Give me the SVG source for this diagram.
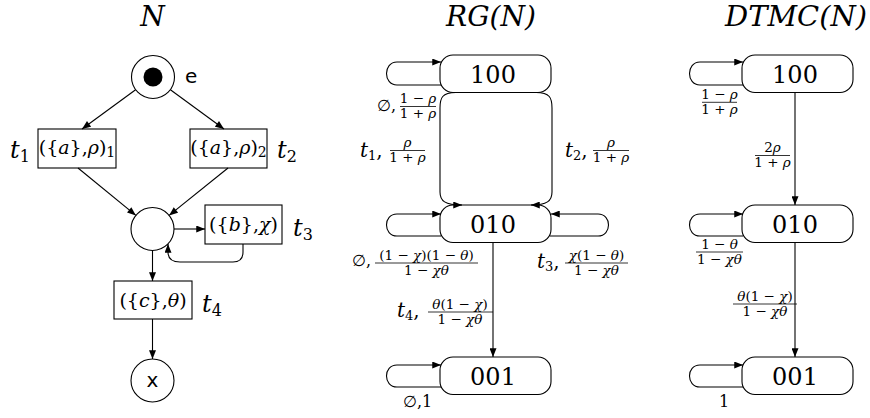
<svg xmlns="http://www.w3.org/2000/svg" width="870" height="418" viewBox="0 0 870 418" font-family="DejaVu Serif">
<defs>
<marker id="ah" viewBox="0 0 10 8" refX="10" refY="4" markerWidth="10" markerHeight="7" orient="auto" markerUnits="userSpaceOnUse"><path d="M0,0 L10,4 L0,8 z" fill="#000"/></marker>
</defs>
<style>
.ln{fill:none;stroke:#000;stroke-width:1.1}
.ar{marker-end:url(#ah)}
.nd{fill:#fff;stroke:#000;stroke-width:1.1}
.bar{stroke:#000;stroke-width:0.8}
.i{font-style:italic}
.ttl{font-size:28px;font-style:italic}
.sans{font-size:20px}
.st{font-size:24px;text-anchor:middle}
.fr{font-size:13.5px;text-anchor:middle}
.lb{font-size:24px}
.lr{font-size:20px}
.bx{font-size:19px;text-anchor:middle}
.em{font-size:16px}
</style>
<rect width="870" height="418" fill="#fff"/>

<g id="titles">
<text class="ttl" x="152.5" y="26" text-anchor="middle">N</text>
<text class="ttl" x="446" y="26" textLength="90" lengthAdjust="spacingAndGlyphs">RG(N)</text>
<text class="ttl" x="725" y="26" textLength="142" lengthAdjust="spacingAndGlyphs">DTMC(N)</text>
</g>

<g id="place-e">
<circle class="nd" cx="153" cy="77" r="21.5"/>
<circle cx="153" cy="77" r="9.5" fill="#000"/>
<text class="sans" font-family="DejaVu Sans" x="185" y="83">e</text>
</g>
<g id="t1">
<rect class="nd" x="38" y="129" width="78" height="39"/>
<text class="bx" x="77" y="154">({<tspan class="i">a</tspan>},<tspan class="i">ρ</tspan>)<tspan font-size="14" dy="3">1</tspan></text>
<text class="lb" x="10" y="158"><tspan class="i">t</tspan><tspan font-size="16" dy="4">1</tspan></text>
</g>
<g id="t2">
<rect class="nd" x="190" y="129" width="77" height="39"/>
<text class="bx" x="228.5" y="154">({<tspan class="i">a</tspan>},<tspan class="i">ρ</tspan>)<tspan font-size="14" dy="3">2</tspan></text>
<text class="lb" x="277" y="158"><tspan class="i">t</tspan><tspan font-size="16" dy="4">2</tspan></text>
</g>
<g id="place-mid">
<circle class="nd" cx="152.5" cy="229" r="21.5"/>
</g>
<g id="t3">
<rect class="nd" x="205" y="205" width="77" height="39"/>
<text class="bx" x="243.5" y="231">({<tspan class="i">b</tspan>},<tspan class="i">χ</tspan>)</text>
<text class="lb" x="293" y="236"><tspan class="i">t</tspan><tspan font-size="16" dy="4">3</tspan></text>
</g>
<g id="t4">
<rect class="nd" x="114" y="281" width="78" height="38"/>
<text class="bx" x="153" y="306.5">({<tspan class="i">c</tspan>},<tspan class="i">θ</tspan>)</text>
<text class="lb" x="202" y="312"><tspan class="i">t</tspan><tspan font-size="16" dy="4">4</tspan></text>
</g>
<g id="place-x">
<circle class="nd" cx="152.5" cy="380.5" r="21.5"/>
<text class="sans" font-family="DejaVu Sans" x="152.5" y="387" text-anchor="middle">x</text>
</g>

<g id="rg-100">
<rect class="nd" x="440" y="55" width="111" height="37.5" rx="13"/>
<text class="st" x="493" y="82.5">100</text>
</g>
<g id="rg-010">
<rect class="nd" x="440" y="205" width="111" height="37.5" rx="13"/>
<text class="st" x="493" y="232.5">010</text>
</g>
<g id="rg-001">
<rect class="nd" x="440" y="357" width="111" height="37.5" rx="13"/>
<text class="st" x="493" y="384.5">001</text>
</g>

<g id="dtmc-100">
<rect class="nd" x="742" y="55" width="111" height="37.5" rx="13"/>
<text class="st" x="795" y="82.5">100</text>
</g>
<g id="dtmc-010">
<rect class="nd" x="742" y="205" width="111" height="37.5" rx="13"/>
<text class="st" x="795" y="232.5">010</text>
</g>
<g id="dtmc-001">
<rect class="nd" x="742" y="357" width="111" height="37.5" rx="13"/>
<text class="st" x="795" y="384.5">001</text>
</g>

<g id="connectors">
<path class="ln ar" d="M135.6 89.7 L82 129"/>
<path class="ln ar" d="M170.4 89.7 L224 129"/>
<path class="ln ar" d="M78 168 L135.9 215.4"/>
<path class="ln ar" d="M228 168 L169.1 215.4"/>
<path class="ln ar" d="M174 229 L205 229"/>
<path class="ln ar" d="M243 244 L243 252 Q243 262 233 262 L180 262 Q168 262 168 252 L168 244"/>
<path class="ln ar" d="M152.5 250.5 L152.5 281"/>
<path class="ln ar" d="M152.5 319 L152.5 359"/>
<path class="ln ar" d="M441 85 L397 85 C383 85 383 62 397 62 L441 62"/>
<path class="ln ar" d="M456 92.5 C442 92.5 440 98 440 108 L440 192 C440 201 445 205 462 205"/>
<path class="ln ar" d="M536 92.5 C550 92.5 552 98 552 108 L552 192 C552 201 547 205 531 205"/>
<path class="ln ar" d="M441 236 L397 236 C383 236 383 214 397 214 L441 214"/>
<path class="ln ar" d="M550 236 L598 236 C612 236 612 214 598 214 L551 214"/>
<path class="ln ar" d="M493 242.5 L493 357"/>
<path class="ln ar" d="M441 387 L397 387 C383 387 383 365 397 365 L441 365"/>
<path class="ln ar" d="M743 85 L700 85 C686 85 686 62 700 62 L743 62"/>
<path class="ln ar" d="M795 92.5 L795 205"/>
<path class="ln ar" d="M743 236 L700 236 C686 236 686 214 700 214 L743 214"/>
<path class="ln ar" d="M795 242.5 L795 357"/>
<path class="ln ar" d="M743 387 L700 387 C686 387 686 365 700 365 L743 365"/>
</g>

<g id="rg-labels">
<text class="em" x="377" y="111">∅,</text>
<line class="bar" x1="400" y1="106.5" x2="436" y2="106.5"/>
<text class="fr" x="418" y="103">1 − <tspan class="i">ρ</tspan></text>
<text class="fr" x="418" y="118">1 + <tspan class="i">ρ</tspan></text>

<text class="lr" x="360" y="157"><tspan class="i">t</tspan><tspan font-size="13" dy="3">1</tspan><tspan dy="-3">,</tspan></text>
<line class="bar" x1="390" y1="150.5" x2="425" y2="150.5"/>
<text class="fr" x="407.5" y="147"><tspan class="i">ρ</tspan></text>
<text class="fr" x="407.5" y="162">1 + <tspan class="i">ρ</tspan></text>

<text class="lr" x="565" y="157"><tspan class="i">t</tspan><tspan font-size="13" dy="3">2</tspan><tspan dy="-3">,</tspan></text>
<line class="bar" x1="593" y1="150.5" x2="629" y2="150.5"/>
<text class="fr" x="611" y="147"><tspan class="i">ρ</tspan></text>
<text class="fr" x="611" y="162">1 + <tspan class="i">ρ</tspan></text>

<text class="em" x="352" y="266">∅,</text>
<line class="bar" x1="375" y1="263" x2="478" y2="263"/>
<text class="fr" x="426.5" y="259.5">(1 − <tspan class="i">χ</tspan>)(1 − <tspan class="i">θ</tspan>)</text>
<text class="fr" x="426.5" y="275">1 − <tspan class="i">χθ</tspan></text>

<text class="lr" x="537" y="268"><tspan class="i">t</tspan><tspan font-size="13" dy="3">3</tspan><tspan dy="-3">,</tspan></text>
<line class="bar" x1="565" y1="263" x2="628" y2="263"/>
<text class="fr" x="596.5" y="259.5"><tspan class="i">χ</tspan>(1 − <tspan class="i">θ</tspan>)</text>
<text class="fr" x="596.5" y="275">1 − <tspan class="i">χθ</tspan></text>

<text class="lr" x="397" y="317"><tspan class="i">t</tspan><tspan font-size="13" dy="3">4</tspan><tspan dy="-3">,</tspan></text>
<line class="bar" x1="428" y1="312" x2="493" y2="312"/>
<text class="fr" x="460" y="308.5"><tspan class="i">θ</tspan>(1 − <tspan class="i">χ</tspan>)</text>
<text class="fr" x="460" y="324">1 − <tspan class="i">χθ</tspan></text>

<text class="em" x="403" y="407">∅,1</text>
</g>

<g id="dtmc-labels">
<line class="bar" x1="702" y1="102.3" x2="737" y2="102.3"/>
<text class="fr" x="719.5" y="98.8">1 − <tspan class="i">ρ</tspan></text>
<text class="fr" x="719.5" y="114">1 + <tspan class="i">ρ</tspan></text>

<line class="bar" x1="755" y1="155.5" x2="790" y2="155.5"/>
<text class="fr" x="772.5" y="152">2<tspan class="i">ρ</tspan></text>
<text class="fr" x="772.5" y="167">1 + <tspan class="i">ρ</tspan></text>

<line class="bar" x1="696" y1="252" x2="743" y2="252"/>
<text class="fr" x="719.5" y="248.5">1 − <tspan class="i">θ</tspan></text>
<text class="fr" x="719.5" y="264">1 − <tspan class="i">χθ</tspan></text>

<line class="bar" x1="733" y1="304" x2="797" y2="304"/>
<text class="fr" x="765" y="300.5"><tspan class="i">θ</tspan>(1 − <tspan class="i">χ</tspan>)</text>
<text class="fr" x="765" y="316">1 − <tspan class="i">χθ</tspan></text>

<text x="719" y="407" font-size="16">1</text>
</g>
</svg>
